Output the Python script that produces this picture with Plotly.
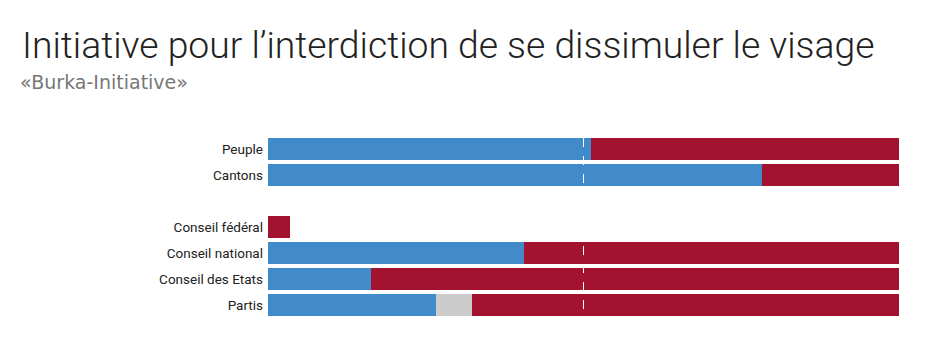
import plotly.graph_objects as go

categories = ["Peuple", "Cantons", " ", "Conseil fédéral", "Conseil national", "Conseil des Etats", "Partis"]
oui = [51.2, 78.3, None, 0, 40.6, 16.3, 26.6]
neutre = [0, 0, None, 0, 0, 0, 5.7]
non = [48.8, 21.7, None, 3.5, 59.4, 83.7, 67.7]

BLUE = "#418bca"
GREY = "#cccccc"
RED = "#a3132f"

# plot area in figure pixels (page adds an 8px body margin)
L, R, T, B = 260, 42, 128, 45
W, H = 933, 355
PW, PH = W - L - R, H - T - B


def px(x):
    return (x - L) / PW


def py(y):
    return (H - B - y) / PH


fig = go.Figure()
for vals, col, name in [(oui, BLUE, "Oui"), (neutre, GREY, "Neutre"), (non, RED, "Non")]:
    fig.add_trace(go.Bar(y=categories, x=vals, orientation="h", marker=dict(color=col, line=dict(width=0)),
                         name=name, showlegend=False, hoverinfo="skip"))

fig.add_shape(type="line", xref="x", yref="y", x0=50, x1=50, y0=-0.42, y1=6.42,
              line=dict(color="white", width=1, dash="dash"))

fig.add_annotation(text="Initiative pour l’interdiction de se dissimuler le visage", xref="paper", yref="paper",
                   x=px(12), y=py(13), xanchor="left", yanchor="top",
                   showarrow=False, font=dict(family="Roboto", size=37.3, color="#222222", weight=300))
fig.add_annotation(text="«Burka-Initiative»", xref="paper", yref="paper",
                   x=px(10), y=py(61), xanchor="left", yanchor="top",
                   showarrow=False, font=dict(family="DejaVu Sans", size=19, color="#777777"))

fig.update_layout(
    width=W, height=H, barmode="stack", bargap=4 / 26,
    margin=dict(l=L, r=R, t=T, b=B),
    paper_bgcolor="white", plot_bgcolor="white",
    xaxis=dict(range=[0, 100], visible=False, fixedrange=True),
    yaxis=dict(categoryorder="array", categoryarray=categories, autorange="reversed",
               showgrid=False, zeroline=False, showline=False, ticks="", ticklen=0,
               tickfont=dict(family="Roboto", size=13.5, color="#222222"), ticklabelstandoff=4),
)

fig.write_html("out.html")
